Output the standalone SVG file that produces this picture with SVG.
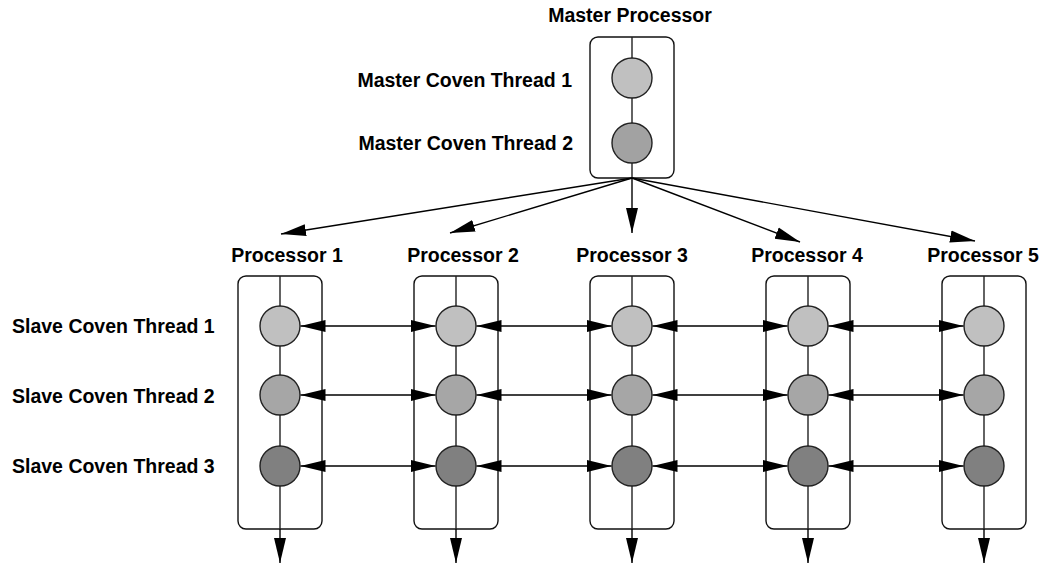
<svg xmlns="http://www.w3.org/2000/svg" width="1044" height="565" viewBox="0 0 1044 565">
  <style>
    .box { fill: none; stroke: #111; stroke-width: 1.4; }
    .axis { stroke: #222; stroke-width: 1.4; }
    .th { stroke: #222; stroke-width: 1.4; }
    .t1 { fill: #c0c0c0; }
    .t2 { fill: #a6a6a6; }
    .t3 { fill: #808080; }
    .m2 { fill: #a2a2a2; }
    .lbl { font-family: "Liberation Sans", Arial, sans-serif; font-weight: bold; font-size: 19.5px; fill: #000; }
    .mid { text-anchor: middle; }
    .end { text-anchor: end; }
    .conn { stroke: #000; stroke-width: 1.4; fill: none; }
  </style>
  <defs>
    <marker id="head" markerUnits="userSpaceOnUse" markerWidth="26" markerHeight="14" refX="25" refY="6.5" orient="auto-start-reverse">
      <path d="M0,0.5 L25,6.5 L0,12.5 z" fill="#000"/>
    </marker>
  </defs>

  <!-- master processor -->
  <g id="master">
    <text class="lbl mid" x="630" y="22">Master Processor</text>
    <rect class="box" x="590" y="37" width="84" height="141" rx="8"/>
    <line class="axis" x1="632" y1="37" x2="632" y2="178"/>
    <circle class="th t1" cx="632" cy="78" r="20"/>
    <circle class="th m2" cx="632" cy="143" r="20"/>
    <text class="lbl end" x="572" y="87">Master Coven Thread 1</text>
    <text class="lbl end" x="573" y="150">Master Coven Thread 2</text>
  </g>

  <!-- row labels -->
  <g id="row-labels">
    <text class="lbl" x="12" y="333">Slave Coven Thread 1</text>
    <text class="lbl" x="12" y="403">Slave Coven Thread 2</text>
    <text class="lbl" x="12" y="473">Slave Coven Thread 3</text>
  </g>

  <!-- slave processors -->
  <g id="processor1">
    <text class="lbl mid" x="287" y="262">Processor 1</text>
    <rect class="box" x="238" y="276" width="84" height="253" rx="8"/>
    <line class="axis" x1="280" y1="276" x2="280" y2="529"/>
    <circle class="th t1" cx="280" cy="326" r="20"/>
    <circle class="th t2" cx="280" cy="395" r="20"/>
    <circle class="th t3" cx="280" cy="466" r="20"/>
  </g>
  <g id="processor2">
    <text class="lbl mid" x="463" y="262">Processor 2</text>
    <rect class="box" x="414" y="276" width="84" height="253" rx="8"/>
    <line class="axis" x1="456" y1="276" x2="456" y2="529"/>
    <circle class="th t1" cx="456" cy="326" r="20"/>
    <circle class="th t2" cx="456" cy="395" r="20"/>
    <circle class="th t3" cx="456" cy="466" r="20"/>
  </g>
  <g id="processor3">
    <text class="lbl mid" x="632" y="262">Processor 3</text>
    <rect class="box" x="590" y="276" width="84" height="253" rx="8"/>
    <line class="axis" x1="632" y1="276" x2="632" y2="529"/>
    <circle class="th t1" cx="632" cy="326" r="20"/>
    <circle class="th t2" cx="632" cy="395" r="20"/>
    <circle class="th t3" cx="632" cy="466" r="20"/>
  </g>
  <g id="processor4">
    <text class="lbl mid" x="807" y="262">Processor 4</text>
    <rect class="box" x="766" y="276" width="84" height="253" rx="8"/>
    <line class="axis" x1="808" y1="276" x2="808" y2="529"/>
    <circle class="th t1" cx="808" cy="326" r="20"/>
    <circle class="th t2" cx="808" cy="395" r="20"/>
    <circle class="th t3" cx="808" cy="466" r="20"/>
  </g>
  <g id="processor5">
    <text class="lbl mid" x="983" y="262">Processor 5</text>
    <rect class="box" x="942" y="276" width="84" height="253" rx="8"/>
    <line class="axis" x1="984" y1="276" x2="984" y2="529"/>
    <circle class="th t1" cx="984" cy="326" r="20"/>
    <circle class="th t2" cx="984" cy="395" r="20"/>
    <circle class="th t3" cx="984" cy="466" r="20"/>
  </g>

  <!-- connectors -->
  <g id="connectors">
    <!-- master fan-out -->
    <line class="conn" x1="632" y1="178" x2="281" y2="234" marker-end="url(#head)"/>
    <line class="conn" x1="632" y1="178" x2="450" y2="233" marker-end="url(#head)"/>
    <line class="conn" x1="632" y1="178" x2="632" y2="233" marker-end="url(#head)"/>
    <line class="conn" x1="632" y1="178" x2="800" y2="242" marker-end="url(#head)"/>
    <line class="conn" x1="632" y1="178" x2="975" y2="241" marker-end="url(#head)"/>

    <!-- thread links between neighbouring processors -->
    <line class="conn" x1="300.5" y1="326" x2="435.5" y2="326" marker-start="url(#head)" marker-end="url(#head)"/>
    <line class="conn" x1="476.5" y1="326" x2="611.5" y2="326" marker-start="url(#head)" marker-end="url(#head)"/>
    <line class="conn" x1="652.5" y1="326" x2="787.5" y2="326" marker-start="url(#head)" marker-end="url(#head)"/>
    <line class="conn" x1="828.5" y1="326" x2="963.5" y2="326" marker-start="url(#head)" marker-end="url(#head)"/>

    <line class="conn" x1="300.5" y1="395" x2="435.5" y2="395" marker-start="url(#head)" marker-end="url(#head)"/>
    <line class="conn" x1="476.5" y1="395" x2="611.5" y2="395" marker-start="url(#head)" marker-end="url(#head)"/>
    <line class="conn" x1="652.5" y1="395" x2="787.5" y2="395" marker-start="url(#head)" marker-end="url(#head)"/>
    <line class="conn" x1="828.5" y1="395" x2="963.5" y2="395" marker-start="url(#head)" marker-end="url(#head)"/>

    <line class="conn" x1="300.5" y1="466" x2="435.5" y2="466" marker-start="url(#head)" marker-end="url(#head)"/>
    <line class="conn" x1="476.5" y1="466" x2="611.5" y2="466" marker-start="url(#head)" marker-end="url(#head)"/>
    <line class="conn" x1="652.5" y1="466" x2="787.5" y2="466" marker-start="url(#head)" marker-end="url(#head)"/>
    <line class="conn" x1="828.5" y1="466" x2="963.5" y2="466" marker-start="url(#head)" marker-end="url(#head)"/>

    <!-- outputs below each processor -->
    <line class="conn" x1="280" y1="529" x2="280" y2="563" marker-end="url(#head)"/>
    <line class="conn" x1="456" y1="529" x2="456" y2="563" marker-end="url(#head)"/>
    <line class="conn" x1="632" y1="529" x2="632" y2="563" marker-end="url(#head)"/>
    <line class="conn" x1="808" y1="529" x2="808" y2="563" marker-end="url(#head)"/>
    <line class="conn" x1="984" y1="529" x2="984" y2="563" marker-end="url(#head)"/>
  </g>
</svg>
